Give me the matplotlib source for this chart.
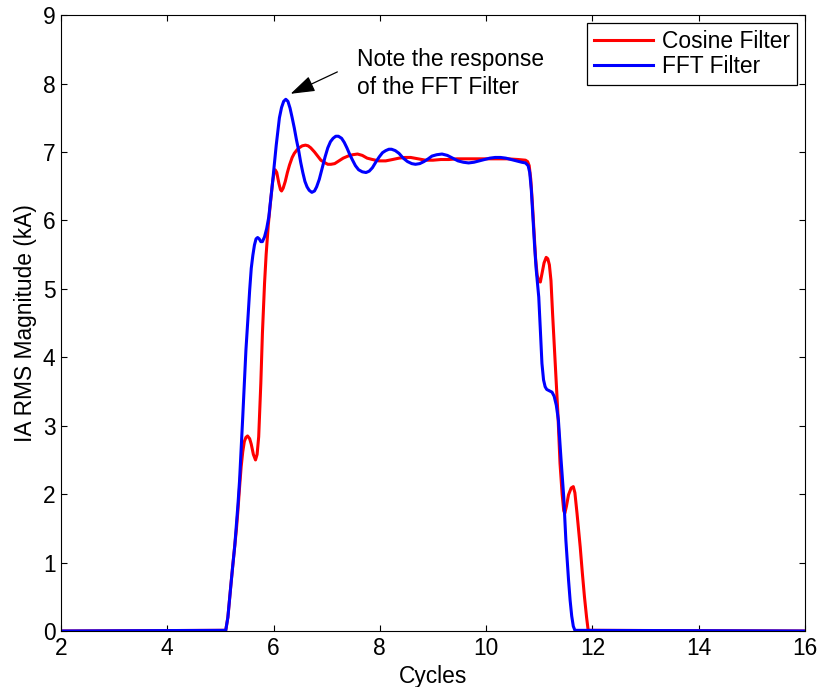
import matplotlib
matplotlib.use('Agg')
import matplotlib.pyplot as plt

plt.rcParams['font.family'] = ['Liberation Sans', 'DejaVu Sans']

# FFT filter magnitude (cycles, kA)
fft_x = [2.0, 5.10, 5.14, 5.17, 5.20, 5.23, 5.27, 5.30, 5.33, 5.36, 5.42, 5.48, 5.52,
         5.55, 5.58, 5.61, 5.64, 5.67, 5.70, 5.73, 5.76, 5.79, 5.83, 5.87, 5.91, 5.98,
         6.05, 6.11, 6.15, 6.19, 6.23, 6.27, 6.31, 6.35, 6.39, 6.43, 6.47, 6.51, 6.55,
         6.59, 6.63, 6.67, 6.72, 6.77, 6.81, 6.86, 6.92, 6.97, 7.02, 7.07, 7.12, 7.17,
         7.22, 7.28, 7.33, 7.38, 7.43, 7.48, 7.54, 7.60, 7.67, 7.74, 7.80, 7.86, 7.93,
         7.99, 8.05, 8.11, 8.17, 8.22, 8.29, 8.36, 8.44, 8.52, 8.60, 8.67, 8.75, 8.83,
         8.91, 8.98, 9.07, 9.17, 9.27, 9.37, 9.47, 9.57, 9.67, 9.77, 9.87, 9.97, 10.07,
         10.17, 10.27, 10.37, 10.47, 10.57, 10.67, 10.74, 10.79, 10.82, 10.85, 10.88,
         10.91, 10.94, 10.99, 11.02, 11.05, 11.08, 11.11, 11.14, 11.19, 11.24, 11.28,
         11.32, 11.36, 11.41, 11.46, 11.50, 11.55, 11.58, 11.61, 11.64, 11.67, 16.0]
fft_y = [0.0, 0.01, 0.20, 0.45, 0.70, 0.94, 1.25, 1.55, 1.85, 2.20, 3.13, 4.11, 4.60,
         4.98, 5.30, 5.49, 5.64, 5.73, 5.75, 5.73, 5.69, 5.69, 5.76, 5.88, 6.05, 6.55,
         7.10, 7.50, 7.65, 7.74, 7.77, 7.74, 7.64, 7.50, 7.35, 7.18, 7.03, 6.85, 6.70,
         6.57, 6.49, 6.44, 6.41, 6.43, 6.49, 6.60, 6.78, 6.93, 7.06, 7.15, 7.20, 7.23,
         7.23, 7.20, 7.14, 7.06, 6.97, 6.89, 6.80, 6.74, 6.71, 6.70, 6.72, 6.77, 6.86,
         6.93, 6.99, 7.02, 7.04, 7.04, 7.02, 6.98, 6.91, 6.86, 6.83, 6.82, 6.83, 6.86,
         6.90, 6.94, 6.96, 6.97, 6.95, 6.91, 6.87, 6.85, 6.84, 6.85, 6.87, 6.89, 6.91,
         6.92, 6.92, 6.91, 6.89, 6.87, 6.85, 6.84, 6.80, 6.70, 6.45, 6.05,
         5.65, 5.30, 4.88, 4.40, 3.91, 3.67, 3.57, 3.53, 3.51, 3.49, 3.43,
         3.30, 3.08, 2.50, 1.96, 1.33, 0.75, 0.45, 0.22, 0.07, 0.01, 0.0]

# Cosine filter magnitude (cycles, kA)
cos_x = [2.0, 5.10, 5.14, 5.17, 5.20, 5.23, 5.27, 5.30, 5.33, 5.36, 5.39, 5.42, 5.45,
         5.48, 5.51, 5.55, 5.58, 5.62, 5.66, 5.69, 5.72, 5.76, 5.79, 5.83, 5.86, 5.90,
         5.94, 5.98, 6.01, 6.03, 6.06, 6.10, 6.13, 6.15, 6.18, 6.22, 6.26, 6.30, 6.35,
         6.39, 6.44, 6.48, 6.54, 6.60, 6.65, 6.70, 6.77, 6.83, 6.89, 6.95, 7.02, 7.08,
         7.15, 7.23, 7.31, 7.40, 7.49, 7.58, 7.67, 7.76, 7.86, 7.98, 8.11, 8.24, 8.36,
         8.47, 8.58, 8.72, 8.86, 9.00, 9.15, 9.30, 9.45, 9.60, 9.80, 10.00, 10.20, 10.40,
         10.60, 10.74, 10.78, 10.81, 10.84, 10.87, 10.90, 10.93, 10.96, 10.99, 11.02,
         11.05, 11.09, 11.13, 11.16, 11.19, 11.22, 11.25, 11.30, 11.35, 11.39, 11.43,
         11.46, 11.48, 11.51, 11.55, 11.60, 11.64, 11.67, 11.71, 11.77, 11.81, 11.85,
         11.89, 11.92, 16.0]
cos_y = [0.0, 0.01, 0.20, 0.45, 0.70, 0.94, 1.25, 1.48, 1.77, 2.10, 2.40, 2.62, 2.77,
         2.83, 2.85, 2.81, 2.73, 2.58, 2.50, 2.58, 2.84, 3.62, 4.35, 5.08, 5.50, 5.93,
         6.25, 6.55, 6.70, 6.74, 6.70, 6.54, 6.45, 6.43, 6.47, 6.57, 6.70, 6.81, 6.92,
         6.98, 7.03, 7.06, 7.09, 7.10, 7.09, 7.06, 7.00, 6.94, 6.88, 6.85, 6.82, 6.82,
         6.83, 6.87, 6.91, 6.94, 6.96, 6.97, 6.95, 6.91, 6.89, 6.87, 6.87, 6.89, 6.91,
         6.92, 6.92, 6.90, 6.88, 6.88, 6.89, 6.89, 6.90, 6.90, 6.90, 6.90, 6.90, 6.90,
         6.89, 6.88, 6.86, 6.80, 6.60, 6.25, 5.85, 5.45, 5.20, 5.11, 5.10,
         5.22, 5.38, 5.46, 5.44, 5.35, 5.12, 4.64, 3.91, 3.18, 2.45, 2.00,
         1.76, 1.72, 1.82, 1.99, 2.09, 2.11, 2.02, 1.72, 1.23, 0.85, 0.50,
         0.20, 0.01, 0.0]

note_text = 'Note the response\nof the FFT Filter'
note_tip = (6.32, 7.85)
note_tail = (7.20, 8.17)
note_pos = (7.57, 8.15)

fs = 16.4

fig = plt.figure(figsize=(8.2, 6.87), dpi=100)
ax = fig.add_axes([0.0744, 0.0815, 0.9073, 0.8965])

ax.plot(cos_x, cos_y, color='#ff0000', lw=2.2, label='Cosine Filter')
ax.plot(fft_x, fft_y, color='#0000ff', lw=2.2, label='FFT Filter')

ax.set_xlim(2, 16)
ax.set_ylim(0, 9)
ax.set_xticks(range(2, 17, 2))
ax.set_yticks(range(0, 10))
ax.tick_params(direction='in', top=True, right=True, length=4.5, width=0.8,
               labelsize=fs, pad=4)
for s in ax.spines.values():
    s.set_linewidth(0.8)

ax.set_xlabel('Cycles', fontsize=fs, labelpad=4)
ax.set_ylabel('IA RMS Magnitude (kA)', fontsize=fs, labelpad=4)

# callout on the FFT overshoot
ax.text(*note_pos, note_text, fontsize=fs, ha='left', va='center', linespacing=1.25)
ax.annotate('', xy=note_tip, xytext=note_tail,
            arrowprops=dict(arrowstyle='-|>,head_length=0.75,head_width=0.25',
                            color='black', lw=0.9, shrinkA=0, shrinkB=0,
                            mutation_scale=20))

leg = ax.legend(loc='upper right', fontsize=fs, fancybox=False, framealpha=1,
                edgecolor='black', handlelength=2.6, borderaxespad=0.35,
                handletextpad=0.4, borderpad=0.3, labelspacing=0.1)
leg.get_frame().set_linewidth(0.9)

fig.savefig('out.png', dpi=100)
